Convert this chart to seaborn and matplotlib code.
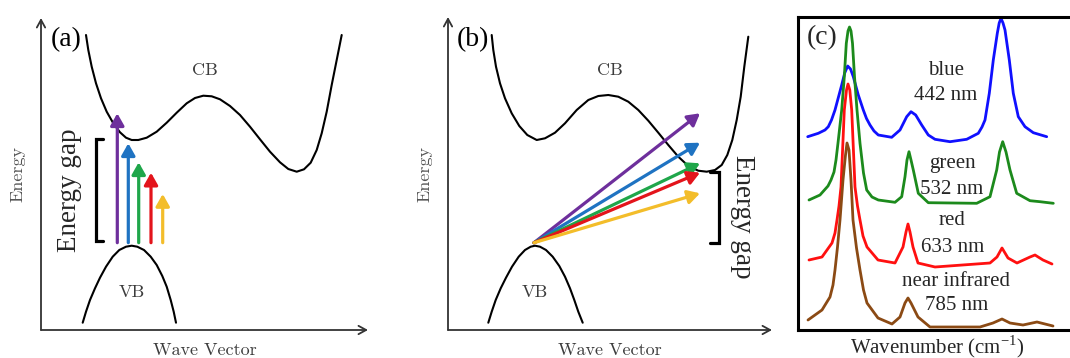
import numpy as np
import pandas as pd
import matplotlib
matplotlib.use("Agg")
import matplotlib.pyplot as plt
import seaborn as sns

sns.set_style("white")
plt.rcParams['font.family'] = ['Liberation Serif', 'DejaVu Serif']

# ---------------- Panel (a): direct gap band diagram ----------------
cb_a_x = [45, 47.3, 50.7, 55, 60, 65.7, 72.3, 79, 85, 90.7, 97.3, 105.7, 115.7, 125.7, 135.7,
          145.7, 154, 162.3, 170.7, 179, 189, 199, 209, 219, 229, 239, 247.3, 255.7, 263,
          269.7, 275.7, 280.7, 285.7, 290.7, 295.7, 300.7]
cb_a_y = [295, 280, 263.3, 246.7, 231.7, 218.3, 206.7, 197.7, 192.3, 190, 190, 192.3, 198.3,
          207.3, 217.3, 226.7, 232, 234.3, 233.7, 230.7, 224, 215, 203.3, 190.7, 178.3, 167.7,
          161, 158.3, 160.7, 167.3, 180, 196.7, 218.3, 245, 270, 295]
vb_a_x = [41.7, 45, 49, 54, 59, 65, 71.7, 78.3, 85, 90.7, 96.3, 103, 109.7, 115.7, 121.3,
          125.7, 129.7, 132.7, 135]
vb_a_y = [7.3, 18.3, 30, 41.7, 52.3, 63.3, 73.3, 80, 83.3, 84.3, 83.3, 80, 73.3, 65, 54,
          43.3, 30, 18.3, 7.3]
arrow_a_x = [76.3, 87.3, 97.7, 110, 121.7]
arrow_a_top = [216.7, 186.7, 167.7, 157.3, 136]
arrow_a_bottom = 87.3

# ---------------- Panel (b): indirect gap band diagram ----------------
cb_b_x = [43.7, 45.3, 48, 52, 57, 63.7, 71.3, 79.3, 88.7, 97, 107, 117, 128.7, 140.3, 150.3,
          160.3, 170.3, 180.3, 190.3, 200.3, 210.3, 220.3, 230.3, 240.3, 250.3, 258.7, 267,
          273.7, 279.3, 284.3, 288.7, 292.7, 296.3, 300.3]
cb_b_y = [295, 280, 263.3, 246.7, 231.7, 216.7, 204, 195, 190, 191.7, 197.3, 206.7, 220, 230,
          234, 235, 233.3, 228.3, 220, 209.3, 197.3, 185, 173.3, 164, 159.3, 158.3, 160, 165,
          175, 190, 210, 233.3, 263.3, 293.3]
vb_b_x = [40.3, 43.7, 47.7, 52.7, 58, 64, 70.7, 77, 82.7, 87, 92, 98, 104.7, 111.3, 117, 122,
          126.3, 130.3, 134.7]
vb_b_y = [7.3, 18.3, 30, 41.7, 52.3, 63.3, 73.3, 80, 83.3, 84.3, 83.3, 80, 73.3, 64, 53.3,
          41.7, 30, 18.3, 7.3]
arrow_b_start = (86, 87.3)
arrow_b_end_x = 252
arrow_b_end_y = [216.7, 187.3, 166.7, 157.3, 136.7]

arrow_colors = ['#6e2f9c', '#1f73c2', '#1fa64a', '#e3141b', '#f3bd2a']

# ---------------- Panel (c): Raman spectra ----------------
blue_x = [9.7, 20.3, 27, 30.3, 33.5, 37, 43.7, 46.7, 49.7, 52.5, 55.3, 60.3, 65.3, 68.5, 72, 76,
          80.3, 93.7, 102, 108.7, 113, 117.7, 123.7, 130.3, 137, 152, 168.7, 180.3, 184, 187,
          191.3, 195.3, 199.3, 201.2, 203, 205, 207, 211.3, 215.3, 220.3, 227, 235.3, 248.7]
blue_y = [193.3, 196.7, 200, 203.3, 210, 220, 245, 257, 264, 261, 253.3, 235, 220, 211.5, 205,
          199, 195, 192.7, 200, 213.3, 218.3, 215, 205, 195, 190.7, 188.3, 190.7, 196.7, 203,
          210, 236.7, 270, 296.7, 307, 311.7, 307, 300, 270, 236.7, 213.3, 203.3, 197.3, 193.3]
green_x = [11, 22, 30, 33, 36, 38, 40, 43.7, 46.3, 48.3, 50, 51.5, 53, 54.5, 56.5, 59, 62, 65.5,
           68.7, 74, 80.3, 97, 103.7, 107, 109, 111, 113, 115.3, 120.3, 130.3, 178.7, 192,
           198.7, 201.5, 204.7, 208, 212, 218.7, 232, 242, 255.3]
green_y = [130, 135, 144, 150, 158, 170, 187, 220, 253.3, 286.7, 299, 303, 299, 286.7, 253.3,
           220, 186.7, 157, 140, 133, 130, 127.7, 133.3, 153.3, 170, 178.3, 170, 160, 136.7,
           127.3, 126.7, 133.3, 160, 178, 188.3, 178, 160, 136.7, 129.3, 128.3, 126.7]
red_x = [11, 24, 34, 37, 39, 41, 43, 46.3, 48.5, 50, 51.8, 53.7, 57, 59.5, 62, 65, 69, 80, 97,
         105, 108, 110, 112, 115, 120, 137, 192, 199, 204, 210, 219, 232, 237, 245, 254]
red_y = [70, 73, 87, 97, 110, 124, 143, 220, 240, 246, 240, 220, 143, 124, 110, 94, 83, 70, 67,
         83, 98, 106, 98, 83, 67, 63, 67, 73, 82, 72, 67, 73, 75, 70, 66]
brown_x = [10, 24, 32, 35, 37, 39.5, 42, 45, 47.5, 49, 51, 53, 55, 58.5, 62, 65.5, 69, 80, 94,
           102, 107, 110, 113, 120, 132, 182, 195, 204, 212, 225, 239, 255]
brown_y = [10, 20, 33, 45, 60, 83, 110, 150, 175, 187, 180, 150, 110, 82, 60, 40, 27, 12, 6, 13,
           27, 32, 27, 13, 3, 3, 7, 11, 7, 5, 8, 4]

spectra_names = ['blue', 'green', 'red', 'near infrared']
spectra_wavelengths = ['442 nm', '532 nm', '633 nm', '785 nm']
spectra_colors = ['#1010ff', '#1c8a1c', '#ff1010', '#8b4a14']

W, H = 1070, 358
fig = plt.figure(figsize=(W / 100, H / 100), dpi=100)


def px_axes(left, top, right, bottom):
    return fig.add_axes([left / W, (H - bottom) / H, (right - left) / W, (bottom - top) / H])


label_gray = '#3c3c3c'
cm_font = 'cmr10'


def band_panel(ax, w, h, cbx, cby, vbx, vby, letter):
    ax.set_xlim(0, w)
    ax.set_ylim(0, h)
    for s in ax.spines.values():
        s.set_visible(False)
    ax.set_xticks([])
    ax.set_yticks([])
    ax.patch.set_alpha(0)
    axprops = dict(arrowstyle='->,head_length=0.55,head_width=0.3', color='#333333', lw=1.3,
                   mutation_scale=10, shrinkA=0, shrinkB=0)
    ax.annotate('', xy=(w, 0), xytext=(0, 0), arrowprops=axprops, annotation_clip=False)
    ax.annotate('', xy=(0, h), xytext=(0, 0), arrowprops=axprops, annotation_clip=False)
    for xs, ys in ((cbx, cby), (vbx, vby)):
        sns.lineplot(x=xs, y=ys, ax=ax, sort=False, estimator=None, color='black', lw=1.5,
                     solid_joinstyle='round', solid_capstyle='round')
    ax.text(w / 2, -25, 'Wave Vector', family=cm_font, fontsize=13, color=label_gray,
            ha='center', va='baseline', clip_on=False)
    ax.text(-23, h / 2, 'Energy', family=cm_font, fontsize=13, color='#555555',
            ha='center', va='center', rotation=90, clip_on=False)
    ax.text(25, 290, letter, fontsize=20, ha='center', va='center', color='black')


# Panel (a)
ax_a = px_axes(41, 18, 368, 330)
band_panel(ax_a, 327, 312, cb_a_x, cb_a_y, vb_a_x, vb_a_y, '(a)')
ax_a.text(164, 260, 'CB', family=cm_font, fontsize=13, color=label_gray, ha='center', va='center')
ax_a.text(91, 38, 'VB', family=cm_font, fontsize=13, color=label_gray, ha='center', va='center')
for xv, top, c in zip(arrow_a_x, arrow_a_top, arrow_colors):
    ax_a.annotate('', xy=(xv, top), xytext=(xv, arrow_a_bottom),
                  arrowprops=dict(arrowstyle='-|>,head_length=0.6,head_width=0.34', color=c,
                                  lw=2.3, mutation_scale=12, shrinkA=0, shrinkB=0))
ax_a.plot([62.3, 55, 55, 62.3], [190.7, 190.7, 89.3, 89.3], color='black', lw=2.3,
          solid_joinstyle='miter')
ax_a.text(29, 140, 'Energy gap', fontsize=19.5, rotation=90, ha='center', va='center')

# Panel (b)
ax_b = px_axes(448, 17, 772, 330)
band_panel(ax_b, 324, 313, cb_b_x, cb_b_y, vb_b_x, vb_b_y, '(b)')
ax_b.text(162, 260, 'CB', family=cm_font, fontsize=13, color=label_gray, ha='center', va='center')
ax_b.text(87, 38, 'VB', family=cm_font, fontsize=13, color=label_gray, ha='center', va='center')
for ye, c in zip(arrow_b_end_y, arrow_colors):
    ax_b.annotate('', xy=(arrow_b_end_x, ye), xytext=arrow_b_start,
                  arrowprops=dict(arrowstyle='-|>,head_length=0.6,head_width=0.34', color=c,
                                  lw=2.3, mutation_scale=12, shrinkA=0, shrinkB=0))
ax_b.plot([262, 271.3, 271.3, 262], [158.3, 158.3, 87.3, 87.3], color='black', lw=2.3,
          solid_joinstyle='miter')
ax_b.text(294, 113, 'Energy gap', fontsize=19.5, rotation=-90, ha='center', va='center')

# Panel (c)
ax_c = px_axes(798, 17, 1072, 330)
ax_c.set_xlim(0, 274)
ax_c.set_ylim(0, 313)
ax_c.set_xticks([])
ax_c.set_yticks([])
for s in ax_c.spines.values():
    s.set_linewidth(2.2)
    s.set_color('black')
for xs, ys, c in zip([blue_x, green_x, red_x, brown_x], [blue_y, green_y, red_y, brown_y],
                     spectra_colors):
    sns.lineplot(x=xs, y=ys, ax=ax_c, sort=False, estimator=None, color=c, lw=2.0,
                 solid_joinstyle='round', solid_capstyle='round')

name_pos = [(148, 255), (154, 161.7), (154.5, 105), (158, 44.3)]
wl_pos = [(148, 230), (154, 136), (154.5, 78.3), (158.7, 20)]
for nm, wl, (nx, ny), (wx, wy) in zip(spectra_names, spectra_wavelengths, name_pos, wl_pos):
    ax_c.text(nx, ny, nm, fontsize=15, ha='center', va='baseline')
    ax_c.text(wx, wy, wl, fontsize=15, ha='center', va='baseline')
ax_c.text(24, 292, '(c)', fontsize=20, ha='center', va='center')
ax_c.text(139, -23, r'Wavenumber (cm$^{\mathregular{-1}}$)', fontsize=15, ha='center',
          va='baseline', clip_on=False)

fig.savefig('out.png', dpi=100)
